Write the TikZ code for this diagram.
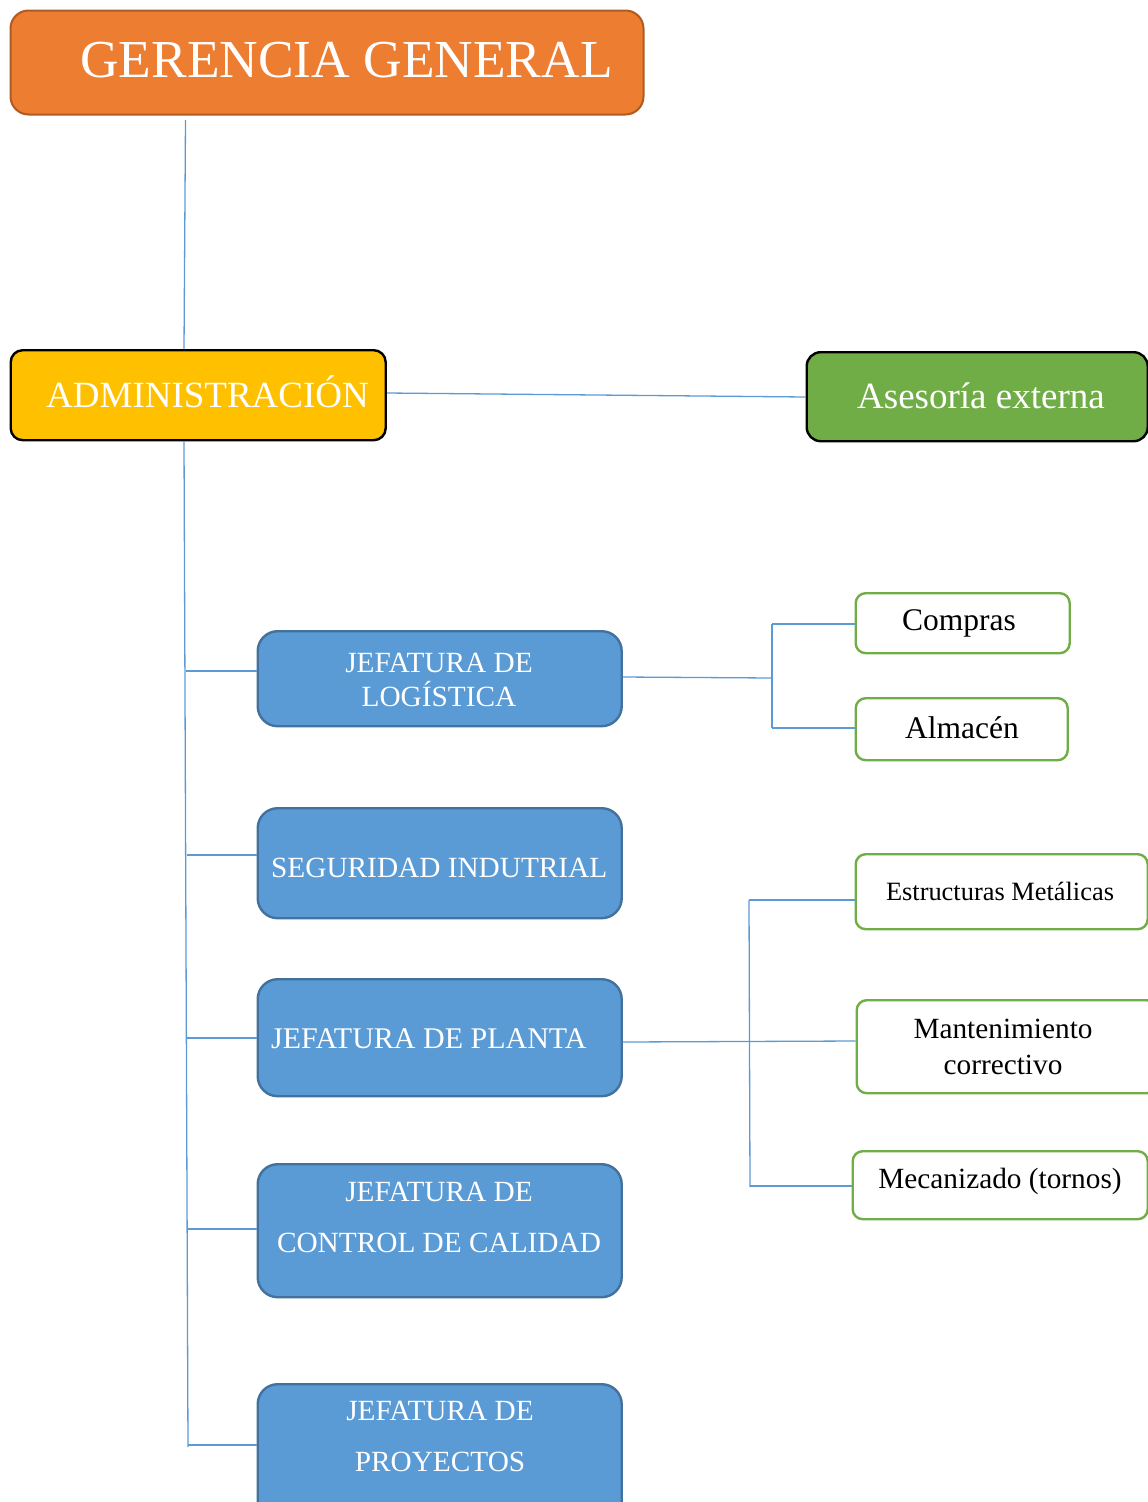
\documentclass[tikz,border=0pt]{standalone}
\usepackage{fontspec}
\setmainfont{Liberation Serif}
\usetikzlibrary{calc}
\definecolor{gerOrange}{HTML}{ED7D31}
\definecolor{gerOrangeDk}{HTML}{AE5A21}
\definecolor{admYellow}{HTML}{FFC000}
\definecolor{aseGreen}{HTML}{70AD47}
\definecolor{jefBlue}{HTML}{5B9BD5}
\definecolor{jefBlueDk}{HTML}{41719C}
\definecolor{linkBlue}{HTML}{5B9BD5}
\tikzset{
  boxbase/.style={anchor=north west, inner sep=0pt, minimum width=#1},
  ggbox/.style={boxbase=633pt, minimum height=104pt, fill=gerOrange, draw=gerOrangeDk, line width=2pt, rounded corners=18pt},
  admbox/.style={boxbase=375pt, minimum height=90pt, fill=admYellow, draw=black, line width=2.4pt, rounded corners=12pt},
  asebox/.style={boxbase=341pt, minimum height=89pt, fill=aseGreen, draw=black, line width=2.4pt, rounded corners=14pt},
  jefbox/.style={boxbase=364pt, fill=jefBlue, draw=jefBlueDk, line width=2.4pt, rounded corners=20pt},
  subbox/.style={boxbase=#1, fill=white, draw=aseGreen, line width=2.4pt, rounded corners=10pt},
  txt/.style={anchor=base, inner sep=0pt},
  txtw/.style={anchor=base west, inner sep=0pt},
  link/.style={draw=linkBlue, line width=1.3pt},
}
\begin{document}
\begin{tikzpicture}[x=1pt,y=-1pt]
\useasboundingbox (0,0) rectangle (1148,1502);
\clip (0,0) rectangle (1148,1502);

% ---- boxes ----
\node[ggbox] (gg) at (9.5,9.5) {};
\node[admbox] (adm) at (9.5,349) {};
\node[asebox] (ase) at (805.5,351) {};

\node[jefbox, minimum height=95pt] (log) at (256.5,630) {};
\node[jefbox, minimum height=110pt] (seg) at (256.5,807) {};
\node[jefbox, minimum height=117pt] (pla) at (256.5,978) {};
\node[jefbox, minimum height=133pt] (cal) at (256.5,1163) {};
\node[jefbox, minimum height=140pt] (pro) at (256.5,1383) {};

\node[subbox=214pt, minimum height=60pt] (com) at (854.5,592) {};
\node[subbox=212pt, minimum height=62pt] (alm) at (854.5,697) {};
\node[subbox=292pt, minimum height=75pt] (est) at (854.5,853) {};
\node[subbox=300pt, minimum height=93pt] (man) at (855.5,999) {};
\node[subbox=295pt, minimum height=68pt] (mec) at (851.5,1150) {};

% ---- texts ----
\node[txtw, text=white, font=\fontsize{53.4}{60}\selectfont] (ggt) at (80,77) {GERENCIA GENERAL};
\node[txtw, text=white, font=\fontsize{37}{44}\selectfont] (admt) at (46,407) {ADMINISTRACIÓN};
\node[txtw, text=white, font=\fontsize{37}{44}\selectfont] (aset) at (857,408) {Asesoría externa};

\begin{scope}[every node/.append style={text=white, font=\fontsize{29.3}{34}\selectfont}]
\node[txt] (logt1) at (439,672) {JEFATURA DE};
\node[txt] (logt2) at (439,706) {LOGÍSTICA};
\node[txtw] (segt) at (271,877) {SEGURIDAD INDUTRIAL};
\node[txtw, font=\fontsize{30}{34}\selectfont] (plat) at (271,1048) {JEFATURA DE PLANTA};
\node[txt] (calt1) at (439,1201) {JEFATURA DE};
\node[txt] (calt2) at (439,1252) {CONTROL DE CALIDAD};
\node[txt] (prot1) at (440,1420) {JEFATURA DE};
\node[txt] (prot2) at (440,1471) {PROYECTOS};
\end{scope}

\node[txt, font=\fontsize{31.5}{36}\selectfont] (comt) at (959,630) {Compras};
\node[txt, font=\fontsize{31.5}{36}\selectfont] (almt) at (962,738) {Almacén};
\node[txt, font=\fontsize{26.4}{31}\selectfont] (estt) at (1000,900) {Estructuras Metálicas};
\node[txt, font=\fontsize{29.3}{34}\selectfont] (mant1) at (1003,1038) {Mantenimiento};
\node[txt, font=\fontsize{29.3}{34}\selectfont] (mant2) at (1003,1074) {correctivo};
\node[txt, font=\fontsize{29.3}{34}\selectfont] (mect) at (1000,1188) {Mecanizado (tornos)};

% ---- connectors ----
\coordinate (ggfoot) at (185.5,120);
\coordinate (admhead) at ($(adm.north west)+(174.5,0)$);
\draw[link] (ggfoot) -- (admhead);

\draw[link] ($(adm.north east)+(0,44)$) -- ($(ase.north west)+(0,46)$);

\coordinate (trunkTop) at ($(adm.south west)+(174.5,0)$);
\coordinate (trunkBot) at (188,1447);
\draw[link] (trunkTop) -- (trunkBot);
\coordinate (bLog) at (186,671);
\coordinate (bSeg) at (186.5,855);
\coordinate (bPla) at (187,1038);
\coordinate (bCal) at (187.5,1229);
\coordinate (bPro) at (188,1445);
\draw[link] (bLog) -- (bLog -| log.west);
\draw[link] (bSeg) -- (bSeg -| seg.west);
\draw[link] (bPla) -- (bPla -| pla.west);
\draw[link] (bCal) -- (bCal -| cal.west);
\draw[link] (bPro) -- (bPro -| pro.west);

% logistics branch
\coordinate (logJ) at (772,678);
\coordinate (logUp) at (772,624);
\coordinate (logDn) at (772,728);
\draw[link] ($(log.north east)+(0,47)$) -- (logJ);
\draw[link] (logUp) -- (logDn);
\draw[link] (logUp) -- (logUp -| com.west);
\draw[link] (logDn) -- (logDn -| alm.west);

% plant branch
\coordinate (plaUp) at (749,900);
\coordinate (plaDn) at (750,1187);
\draw[link] ($(pla.north east)+(0,64)$) -- ($(man.north west)+(0,42)$);
\draw[link] (plaUp) -- (plaDn);
\draw[link] (plaUp) -- (plaUp -| est.west);
\draw[link] ($(plaDn)+(0,-1)$) -- ($(plaDn -| mec.west)+(0,-1)$);
\end{tikzpicture}
\end{document}
